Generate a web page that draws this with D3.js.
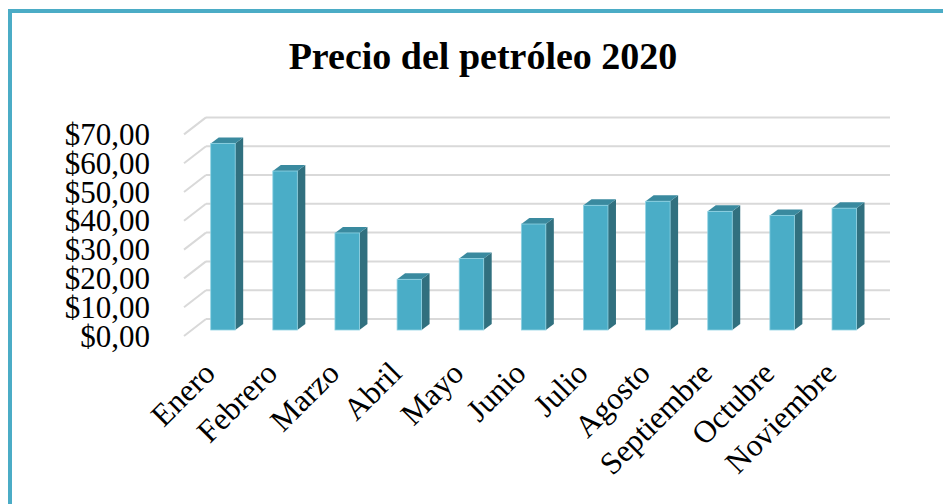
<!DOCTYPE html>
<html>
<head>
<meta charset="utf-8">
<script src="https://cdn.jsdelivr.net/npm/d3@7"></script>
<style>
  html, body { margin: 0; padding: 0; background: #ffffff; }
  svg { display: block; }
  text { font-family: "Liberation Serif", "Times New Roman", serif; fill: #000; }
</style>
</head>
<body>
<svg id="chart" width="943" height="504"></svg>
<script>
const title = "Precio del petróleo 2020";
const months = ["Enero", "Febrero", "Marzo", "Abril", "Mayo", "Junio", "Julio", "Agosto", "Septiembre", "Octubre", "Noviembre"];
const prices = [64.8, 55.2, 33.7, 17.6, 24.8, 36.8, 43.3, 44.7, 41.2, 39.8, 42.3];
const yTicks = [0, 10, 20, 30, 40, 50, 60, 70];
const yTickLabels = ["$0,00", "$10,00", "$20,00", "$30,00", "$40,00", "$50,00", "$60,00", "$70,00"];

const svg = d3.select("#chart");

// Chart border (extends past right/bottom edges)
svg.append("rect")
  .attr("x", 10).attr("y", 11)
  .attr("width", 960).attr("height", 520)
  .attr("fill", "none")
  .attr("stroke", "#4bacc6")
  .attr("stroke-width", 4);

// Title
svg.append("text")
  .attr("x", 483).attr("y", 69)
  .attr("text-anchor", "middle")
  .attr("font-weight", "bold")
  .attr("font-size", 38)
  .text(title);

// 3D projection offsets
const depthX = 22, depthY = 17;      // full floor depth (left wall)
const barDX = 8, barDY = 6;          // bar depth
const wallOffY = 11;                 // from bar front base to back wall

const x = d3.scaleBand()
  .domain(months)
  .range([210.7, 856.5])
  .paddingInner(0.606)
  .paddingOuter(0);

const y = d3.scaleLinear()
  .domain([0, 70])
  .range([330, 128.4]);

const wallLeft = 206, wallRight = 890;

// Gridlines: back wall + left wall diagonal
const grid = svg.append("g");
yTicks.forEach(t => {
  const yb = y(t) - wallOffY;
  grid.append("line")
    .attr("x1", wallLeft).attr("x2", wallRight)
    .attr("y1", yb).attr("y2", yb)
    .attr("stroke", "#d9d9d9").attr("stroke-width", 2);
  grid.append("line")
    .attr("x1", wallLeft - depthX).attr("y1", yb + depthY)
    .attr("x2", wallLeft).attr("y2", yb)
    .attr("stroke", "#d9d9d9").attr("stroke-width", 2);
});

// Y labels
svg.append("g").selectAll("text")
  .data(yTicks)
  .join("text")
  .attr("x", 150)
  .attr("y", (d) => y(d) + 6)
  .attr("dy", "0.34em")
  .attr("text-anchor", "end")
  .attr("font-size", 31)
  .text((d, i) => yTickLabels[i]);

// Bars
const bw = x.bandwidth();
const bars = svg.append("g").selectAll("g")
  .data(months.map((m, i) => ({ m, v: prices[i] })))
  .join("g");

bars.append("polygon")
  .attr("points", d => {
    const x0 = x(d.m) + bw, yt = y(d.v), yb = y(0);
    return [[x0, yt], [x0 + barDX, yt - barDY], [x0 + barDX, yb - barDY], [x0, yb]].join(" ");
  })
  .attr("fill", "#31707f");

bars.append("polygon")
  .attr("points", d => {
    const x0 = x(d.m), yt = y(d.v);
    return [[x0, yt], [x0 + barDX, yt - barDY], [x0 + bw + barDX, yt - barDY], [x0 + bw, yt]].join(" ");
  })
  .attr("fill", "#3a8a9f");

bars.append("rect")
  .attr("x", d => x(d.m))
  .attr("y", d => y(d.v))
  .attr("width", bw)
  .attr("height", d => y(0) - y(d.v))
  .attr("fill", "#4aadc7")
  .attr("stroke", "#8fd2e3")
  .attr("stroke-width", 0.8);

// X labels rotated -45
svg.append("g").selectAll("text")
  .data(months)
  .join("text")
  .attr("transform", d => `translate(${x(d) + bw / 2 - 6},${375}) rotate(-45)`)
  .attr("text-anchor", "end")
  .attr("font-size", 31.5)
  .text(d => d);
</script>
</body>
</html>
